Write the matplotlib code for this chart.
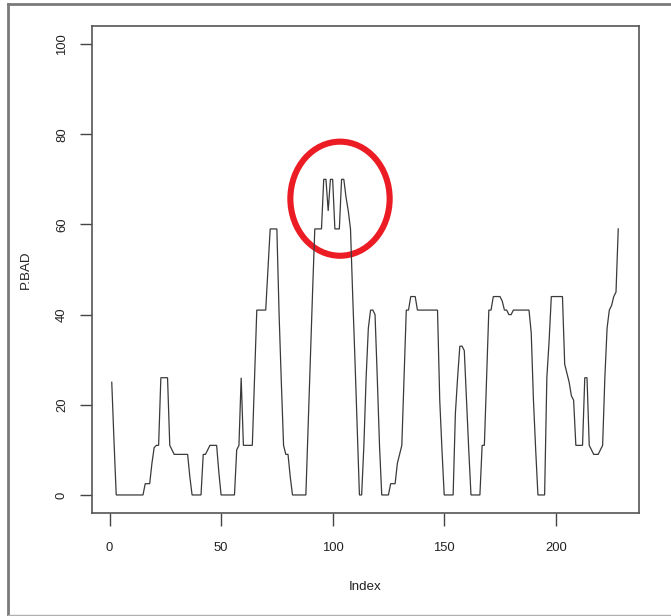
#!/usr/bin/env python3
"""
plot.py

Line plot of P.BAD against Index (R style base graphics), with a red
ellipse marking the peak region.
"""
import matplotlib
matplotlib.use('Agg')
import matplotlib.pyplot as plt
from matplotlib.patches import Ellipse
from matplotlib.lines import Line2D

# P.BAD values, one per index (1..228)
p_bad = [
    25, 12, 0, 0, 0, 0, 0, 0, 0, 0,                  # 1-10
    0, 0, 0, 0, 0, 2.5, 2.5, 2.5, 7, 10.5,           # 11-20
    11, 11, 26, 26, 26, 26, 11, 10, 9, 9,            # 21-30
    9, 9, 9, 9, 9, 4, 0, 0, 0, 0,                    # 31-40
    0, 9, 9, 10, 11, 11, 11, 11, 5, 0,               # 41-50
    0, 0, 0, 0, 0, 0, 10, 11, 26, 11,                # 51-60
    11, 11, 11, 11, 26, 41, 41, 41, 41, 41,          # 61-70
    50, 59, 59, 59, 59, 40, 25, 11, 9, 9,            # 71-80
    4, 0, 0, 0, 0, 0, 0, 0, 15, 30,                  # 81-90
    45, 59, 59, 59, 59, 70, 70, 63, 70, 70,          # 91-100
    59, 59, 59, 70, 70, 66, 63, 59, 44, 30,          # 101-110
    15, 0, 0, 11, 26, 37, 41, 41, 40, 26,            # 111-120
    11, 0, 0, 0, 0, 2.5, 2.5, 2.5, 7, 9,             # 121-130
    11, 26, 41, 41, 44, 44, 44, 41, 41, 41,          # 131-140
    41, 41, 41, 41, 41, 41, 41, 21, 10, 0,           # 141-150
    0, 0, 0, 0, 18, 26, 33, 33, 32, 21,              # 151-160
    10, 0, 0, 0, 0, 0, 11, 11, 26, 41,               # 161-170
    41, 44, 44, 44, 44, 43, 41, 41, 40, 40,          # 171-180
    41, 41, 41, 41, 41, 41, 41, 41, 36, 21,          # 181-190
    10, 0, 0, 0, 0, 26, 34, 44, 44, 44,              # 191-200
    44, 44, 44, 29, 27, 25, 22, 21, 11, 11,          # 201-210
    11, 11, 26, 26, 11, 10, 9, 9, 9, 10,             # 211-220
    11, 26, 37, 41, 42, 44, 45, 59,                  # 221-228
]
index = list(range(1, len(p_bad) + 1))

# annotation ellipse (data units): centre, width, height
circle_centre = (103.3, 65.7)
circle_size = (44.5, 25.3)

x_ticks = [0, 50, 100, 150, 200]
y_ticks = [0, 20, 40, 60, 80, 100]

plt.rcParams['font.family'] = ['Liberation Sans', 'DejaVu Sans']

W, H = 671, 616
fig = plt.figure(figsize=(W / 100, H / 100), dpi=100)
fig.patch.set_facecolor('white')

# axes box placed in pixels, like the R device
left, right, top, bottom = 91.5, 638.5, 26, 513
ax = fig.add_axes([left / W, 1 - bottom / H, (right - left) / W, (bottom - top) / H])

ax.plot(index, p_bad, color='#3a3a3a', lw=0.9, solid_joinstyle='miter')

# R extends the range by 4% on each side
n = len(p_bad)
pad = (n - 1) * 0.04
ax.set_xlim(1 - pad, n + pad)
ax.set_ylim(-4, 104)

ax.set_xticks(x_ticks)
ax.set_yticks(y_ticks)
ax.tick_params(direction='out', length=9, width=1, color='#444',
               labelsize=9.4, labelcolor='#222')
ax.tick_params(axis='x', pad=12)
ax.tick_params(axis='y', pad=8)
for lab in ax.get_yticklabels():
    lab.set_rotation(90)
    lab.set_va('center')

for sp in ax.spines.values():
    sp.set_color('#555')
    sp.set_linewidth(1.2)

box_w, box_h = right - left, bottom - top
ax.set_xlabel('Index', fontsize=9.6, color='#222')
ax.set_ylabel('P.BAD', fontsize=9.6, color='#222')
ax.xaxis.set_label_coords(0.5, (bottom - 587) / box_h, transform=ax.transAxes)
ax.xaxis.label.set_va('center')
ax.yaxis.set_label_coords((26 - left) / box_w, 0.5, transform=ax.transAxes)
ax.yaxis.label.set_va('center')

ell = Ellipse(circle_centre, circle_size[0], circle_size[1], fill=False,
              edgecolor='#ec1c24', lw=4.4, clip_on=False)
ax.add_patch(ell)

# screenshot frame around the whole picture
fig.add_artist(Line2D([8 / W, 1], [1 - 4 / H, 1 - 4 / H], color='#7a7a7a', lw=2))
fig.add_artist(Line2D([8 / W, 8 / W], [1 - 4 / H, 1 - 615 / H], color='#7a7a7a', lw=2))
fig.add_artist(Line2D([8 / W, 1], [1 - 615 / H, 1 - 615 / H], color='#b0b0b0', lw=1))

fig.savefig('out.png', dpi=100)
